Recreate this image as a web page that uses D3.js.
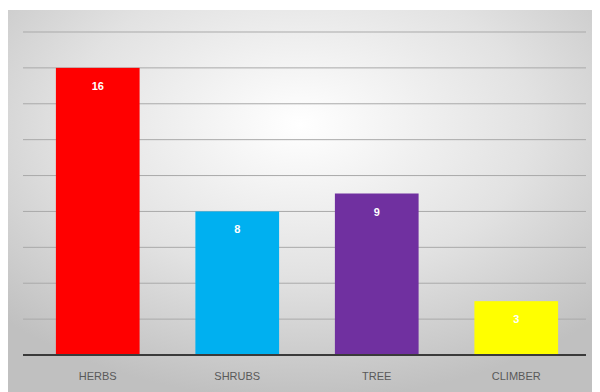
<!DOCTYPE html>
<html lang="en">
<head>
  <meta charset="UTF-8" />
  <title>Plant habit</title>
  <style>
    body { margin: 0; background: #fff; }
    svg { display: block; }
  </style>
  <script src="https://d3js.org/d3.v7.min.js"></script>
</head>
<body>
<svg id="chart" width="600" height="392"></svg>
<script>
  const categories = ['HERBS', 'SHRUBS', 'TREE', 'CLIMBER'];
  const counts = [16, 8, 9, 3];
  const barColors = ['#ff0000', '#00b0f0', '#7030a0', '#ffff00'];
  const yTicks = [0, 2, 4, 6, 8, 10, 12, 14, 16, 18];

  const svg = d3.select('#chart');
  const plot = { left: 28, right: 586, top: 32, bottom: 355 };

  // background panel with soft radial shading
  const grad = svg.append('defs').append('radialGradient')
    .attr('id', 'bg')
    .attr('cx', '50%').attr('cy', '30%').attr('r', '72%');
  grad.append('stop').attr('offset', '0%').attr('stop-color', '#ffffff');
  grad.append('stop').attr('offset', '55%').attr('stop-color', '#e2e2e2');
  grad.append('stop').attr('offset', '100%').attr('stop-color', '#c0c0c0');

  svg.append('rect')
    .attr('x', 8).attr('y', 10)
    .attr('width', 584).attr('height', 382)
    .attr('fill', 'url(#bg)');

  const x = d3.scaleBand()
    .domain(categories)
    .range([plot.left, plot.right])
    .paddingInner(0.4)
    .paddingOuter(0.2);

  const y = d3.scaleLinear()
    .domain([0, 18])
    .range([plot.bottom, plot.top]);

  // gridlines
  svg.append('g')
    .selectAll('line')
    .data(yTicks.slice(1))
    .join('line')
    .attr('x1', 23).attr('x2', plot.right)
    .attr('y1', d => y(d)).attr('y2', d => y(d))
    .attr('stroke', '#a9a9a9')
    .attr('stroke-width', 1);

  // bars
  svg.append('g')
    .selectAll('rect')
    .data(categories)
    .join('rect')
    .attr('x', d => x(d))
    .attr('y', (d, i) => y(counts[i]))
    .attr('width', x.bandwidth())
    .attr('height', (d, i) => y(0) - y(counts[i]))
    .attr('fill', (d, i) => barColors[i]);

  // value labels
  svg.append('g')
    .selectAll('text')
    .data(categories)
    .join('text')
    .attr('x', d => x(d) + x.bandwidth() / 2)
    .attr('y', (d, i) => y(counts[i]) + 22)
    .attr('text-anchor', 'middle')
    .attr('fill', '#fff')
    .attr('font-family', 'Liberation Sans, Arial, sans-serif')
    .attr('font-weight', 'bold')
    .attr('font-size', 11)
    .text((d, i) => counts[i]);

  // x axis
  const xAxis = svg.append('g')
    .attr('transform', `translate(0,${plot.bottom})`)
    .call(d3.axisBottom(x).tickSize(0).tickPadding(17));
  xAxis.select('.domain')
    .attr('d', `M23,0H${plot.right}`)
    .attr('stroke', '#3a3a3a')
    .attr('stroke-width', 2);
  xAxis.selectAll('text')
    .attr('fill', '#595959')
    .attr('font-family', 'Liberation Sans Narrow, Arial Narrow, sans-serif')
    .attr('font-size', 11);
</script>
</body>
</html>
